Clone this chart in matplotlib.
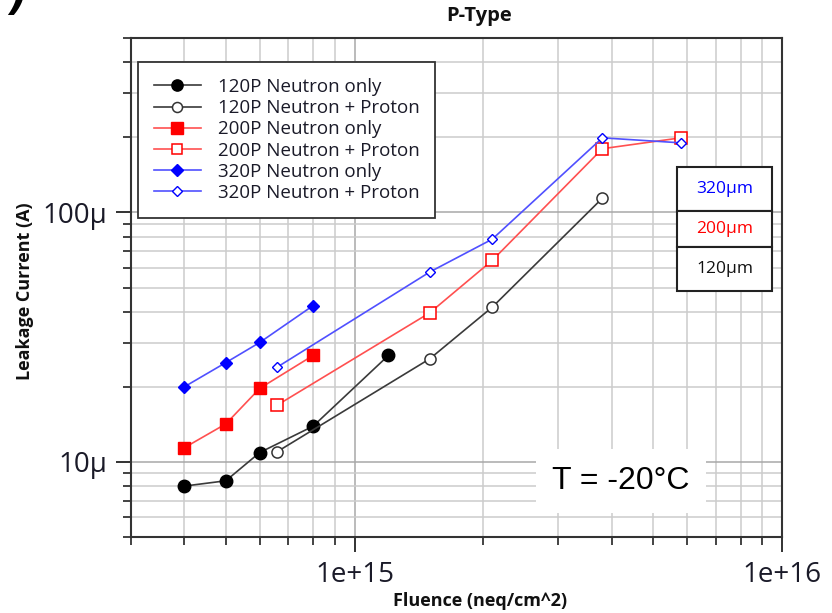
import matplotlib
matplotlib.use("Agg")
import matplotlib.pyplot as plt
from matplotlib.patches import Rectangle
from matplotlib.ticker import LogLocator, FixedLocator, FixedFormatter, NullFormatter

plt.rcParams['font.family'] = ['Open Sans', 'DejaVu Sans']

# ---- data ----
fluence_n_120 = [4e14, 5e14, 6e14, 8e14, 1.2e15]
current_n_120 = [8.0e-6, 8.4e-6, 1.09e-5, 1.39e-5, 2.67e-5]

fluence_np_120 = [6.6e14, 1.5e15, 2.1e15, 3.8e15]
current_np_120 = [1.1e-5, 2.59e-5, 4.17e-5, 1.14e-4]

fluence_n_200 = [4e14, 5e14, 6e14, 8e14]
current_n_200 = [1.14e-5, 1.42e-5, 1.97e-5, 2.67e-5]

fluence_np_200 = [6.6e14, 1.5e15, 2.1e15, 3.8e15, 5.8e15]
current_np_200 = [1.69e-5, 3.96e-5, 6.42e-5, 1.80e-4, 1.99e-4]

fluence_n_320 = [4e14, 5e14, 6e14, 8e14]
current_n_320 = [2.0e-5, 2.5e-5, 3.01e-5, 4.23e-5]

fluence_np_320 = [6.6e14, 1.5e15, 2.1e15, 3.8e15, 5.8e15]
current_np_320 = [2.4e-5, 5.77e-5, 7.81e-5, 1.99e-4, 1.90e-4]

labels = ["120P Neutron only", "120P Neutron + Proton",
          "200P Neutron only", "200P Neutron + Proton",
          "320P Neutron only", "320P Neutron + Proton"]
thickness_labels = ["320µm", "200µm", "120µm"]
x_ticks = [1e15, 1e16]
x_ticklabels = ["1e+15", "1e+16"]
y_ticks = [1e-5, 1e-4]
y_ticklabels = ["10µ", "100µ"]

W, H = 832, 613
fig = plt.figure(figsize=(W / 100, H / 100), dpi=100)
ax = fig.add_axes([131 / W, 1 - 537 / H, (782 - 131) / W, (537 - 38) / H])
ax.set_xscale('log')
ax.set_yscale('log')
ax.set_xlim(3e14, 1e16)
ax.set_ylim(5e-6, 5e-4)

black_line = '#3a3a3a'
red_line = '#ff5050'
blue_line = '#5050ff'

ax.plot(fluence_n_120, current_n_120, '-o', color=black_line, lw=1.2,
        ms=9, mfc='black', mec='black', label=labels[0], zorder=5)
ax.plot(fluence_np_120, current_np_120, '-o', color=black_line, lw=1.2,
        ms=8, mfc='white', mec='#333333', mew=1.1, label=labels[1], zorder=5)
ax.plot(fluence_n_200, current_n_200, '-s', color=red_line, lw=1.2,
        ms=9, mfc='red', mec='red', label=labels[2], zorder=5)
ax.plot(fluence_np_200, current_np_200, '-s', color=red_line, lw=1.2,
        ms=8.5, mfc='white', mec='red', mew=1.1, label=labels[3], zorder=5)
ax.plot(fluence_n_320, current_n_320, '-D', color=blue_line, lw=1.2,
        ms=6.5, mfc='blue', mec='blue', label=labels[4], zorder=5)
ax.plot(fluence_np_320, current_np_320, '-D', color=blue_line, lw=1.2,
        ms=5.5, mfc='white', mec='blue', mew=1.0, label=labels[5], zorder=5)

# ticks
ax.xaxis.set_major_locator(FixedLocator(x_ticks))
ax.xaxis.set_major_formatter(FixedFormatter(x_ticklabels))
ax.xaxis.set_minor_locator(LogLocator(base=10, subs=range(2, 10)))
ax.xaxis.set_minor_formatter(NullFormatter())
ax.yaxis.set_major_locator(FixedLocator(y_ticks))
ax.yaxis.set_major_formatter(FixedFormatter(y_ticklabels))
ax.yaxis.set_minor_locator(LogLocator(base=10, subs=range(2, 10)))
ax.yaxis.set_minor_formatter(NullFormatter())

ax.tick_params(which='major', direction='out', length=11, width=1.3,
               color='#222222', labelsize=20, labelcolor='#1a1a28', pad=6)
ax.tick_params(which='minor', direction='out', length=6, width=1.2, color='#222222')
ax.tick_params(top=False, right=False)

ax.grid(True, which='minor', color='#cccccc', lw=1.1, zorder=0)
ax.grid(True, which='major', color='#a8a8a8', lw=1.1, zorder=0)
ax.set_axisbelow(True)
for sp in ax.spines.values():
    sp.set_color('#333333')
    sp.set_linewidth(1.5)

# legend
leg = ax.legend(loc='upper left', bbox_to_anchor=(138 / W, 1 - 62 / H),
                bbox_transform=fig.transFigure, borderaxespad=0,
                fontsize=13.5, frameon=True, fancybox=False, framealpha=1,
                edgecolor='#333333', handlelength=2.5, handletextpad=0.9,
                labelspacing=0.17, borderpad=0.85, markerscale=0.9)
leg.get_frame().set_linewidth(1.3)
for t in leg.get_texts():
    t.set_color('#1a1a28')

# thickness table
x0, x1 = 676.7 / W, 772.3 / W
ys = [166.7, 211, 247, 290.7]
colors = ['blue', 'red', '#111111']
for i in range(3):
    yt, yb = 1 - ys[i] / H, 1 - ys[i + 1] / H
    fig.patches.append(Rectangle((x0, yb), x1 - x0, yt - yb, transform=fig.transFigure,
                                 facecolor='white', edgecolor='#222222', lw=1.5, zorder=10))
    fig.text((x0 + x1) / 2, (yt + yb) / 2, thickness_labels[i], color=colors[i],
             ha='center', va='center', fontsize=12.5, zorder=11)

# temperature note
fig.text(621 / W, 1 - 481 / H, "T = -20°C", family='Liberation Sans', fontsize=23,
         ha='center', va='center', color='black',
         bbox=dict(facecolor='white', edgecolor='none', pad=12), zorder=12)

# titles
fig.text(479 / W, 1 - 16 / H, "P-Type", fontsize=14.5, fontweight='bold',
         ha='center', va='center', color='#111111')
fig.text(480 / W, 1 - 601 / H, "Fluence (neq/cm^2)", fontsize=13, fontweight='bold',
         ha='center', va='center', color='#111111')
fig.text(25 / W, 1 - 291 / H, "Leakage Current (A)", fontsize=13, fontweight='bold',
         ha='center', va='center', rotation=90, color='#111111')

# partial panel label at top-left (cut off in the reference as well)
fig.text(8 / W, 1 + 2 / H, ")", fontsize=30, fontweight='bold', style='italic',
         ha='left', va='center', color='black', family='DejaVu Sans')

fig.savefig("out.png", dpi=100)
